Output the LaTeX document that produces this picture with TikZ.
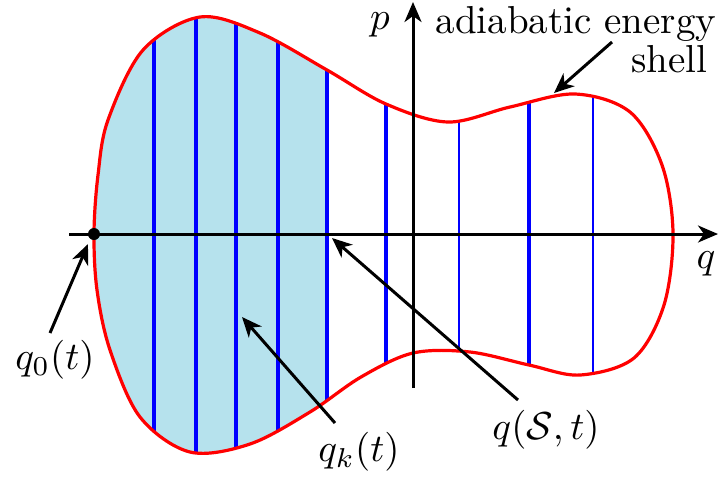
\documentclass[tikz,border=0pt]{standalone}
\usetikzlibrary{arrows.meta}
\definecolor{regionblue}{RGB}{182,226,237}
\tikzset{
  arr/.style={line width=1.5pt,-{Stealth[length=10pt,width=8.5pt,inset=3pt]}},
  lbl/.style={inner sep=0pt, scale=1.95, font=\fontsize{10}{12}\selectfont},
  shellline/.style={red, line width=1.6pt},
  vline/.style={blue, line width=1.6pt},
}
\begin{document}
\begin{tikzpicture}[x=0.5pt,y=-0.5pt]
\useasboundingbox (0,0) rectangle (722,479);
% shaded part and vertical lines, clipped by the shell
\begin{scope}
\clip plot[smooth cycle, tension=0.55] coordinates {
 (94,233) (98,175) (108,120) (143,50) (200,17) (260,33) (327,70) (386,104)
 (448,122) (510,107) (575,94) (630,112) (662,165) (673,233) (664,305) (634,358)
 (580,375) (529,365) (470,352) (413,353) (361,377) (310,412) (250,444) (190,452)
 (140,417) (110,350) (97,290)};
\fill[regionblue] (0,0) rectangle (327,479);
\draw[vline] (154,0) -- (154,479);
\draw[vline] (196,0) -- (196,479);
\draw[vline] (236,0) -- (236,479);
\draw[vline] (278,0) -- (278,479);
\draw[vline] (327,0) -- (327,479);
\draw[vline, line width=1.8pt] (386,0) -- (386,479);
\draw[vline, line width=1.2pt] (459,0) -- (459,479);
\draw[vline, line width=2.2pt] (529,0) -- (529,479);
\draw[vline, line width=1.2pt] (593,0) -- (593,479);
\end{scope}
% the energy shell
\draw[shellline] plot[smooth cycle, tension=0.55] coordinates {
 (94,233) (98,175) (108,120) (143,50) (200,17) (260,33) (327,70) (386,104)
 (448,122) (510,107) (575,94) (630,112) (662,165) (673,233) (664,305) (634,358)
 (580,375) (529,365) (470,352) (413,353) (361,377) (310,412) (250,444) (190,452)
 (140,417) (110,350) (97,290)};
% axes
\coordinate (qa0) at (69,234);
\coordinate (qa1) at (718,234);
\coordinate (pa0) at (413,388);
\coordinate (pa1) at (413,2);
\draw[arr] (qa0) -- (qa1);
\draw[arr] (pa0) -- (pa1);
% point q0
\node[circle, fill=black, inner sep=0pt, minimum size=6pt] (dot) at (94,234) {};
% labels
\node[lbl] (p) at (380,25) {$p$};
\node[lbl] (q) at (706,264) {$q$};
\node[lbl, anchor=base east] (adia) at (717,33) {adiabatic energy};
\node[lbl, anchor=base east] (shell) at (708,72) {shell};
\node[lbl] (q0) at (55,360) {$q_0(t)$};
\node[lbl] (qk) at (359,452) {$q_k(t)$};
\node[lbl] (qS) at (546,430) {$q(\mathcal{S},t)$};
% pointer arrows
\coordinate (shS) at (612,42);
\coordinate (shE) at (554,93);
\coordinate (q0S) at (50,333);
\coordinate (q0E) at (88,244);
\coordinate (qkS) at (335,423);
\coordinate (qkE) at (242,317);
\coordinate (qSS) at (518,400);
\coordinate (qSE) at (332,238);
\draw[arr] (shS) -- (shE);
\draw[arr] (q0S) -- (q0E);
\draw[arr] (qkS) -- (qkE);
\draw[arr] (qSS) -- (qSE);
\end{tikzpicture}
\end{document}
